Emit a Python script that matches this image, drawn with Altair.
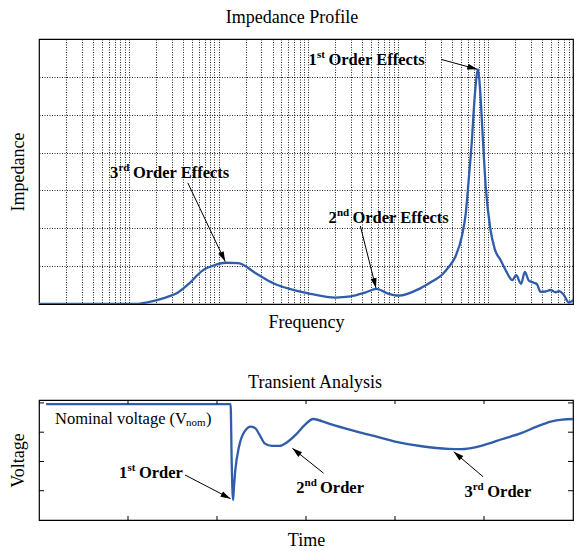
import altair as alt
import pandas as pd

BLUE = "#2f5dab"
FONT = "Liberation Serif"
ARROW = "M0,0L-0.6,2L0.6,2Z"

# ---------------- Impedance profile (top) ----------------
imp_freq = [1, 12, 16.5, 22, 28, 35, 47, 65, 91, 120,
            166, 257, 407, 661, 1047, 2000, 2950, 4270, 5750, 7590,
            10100, 17800, 24000, 31000, 36300, 43200, 51300, 56600, 61100, 66100,
            71300, 77600, 82000, 87100, 94400, 106000, 119000, 138000, 157000, 171000,
            186000, 206000, 234000, 257000, 285000, 324000, 352000, 385000, 437000, 498000,
            566000, 617000, 700000, 795000, 906000]
imp_val = [0, 0, 0.05, 0.12, 0.2, 0.3, 0.54, 0.87, 1.03, 1.09,
           1.08, 0.82, 0.55, 0.38, 0.27, 0.17, 0.2, 0.3, 0.4, 0.28,
           0.22, 0.42, 0.6, 0.78, 0.97, 1.24, 1.8, 2.4, 3.3, 4.3,
           5.5, 6.2, 5.6, 4.5, 3.1, 2.0, 1.45, 1.16, 0.9, 0.73,
           0.63, 0.76, 0.53, 0.85, 0.62, 0.56, 0.52, 0.32, 0.33, 0.37,
           0.31, 0.34, 0.24, 0.04, 0.12]

freq_domain = [1, 885000]
imp_domain = [0, 7]
imp_grid_y = [1, 2, 3, 4, 5, 6]
imp_grid_x = [k * 10 ** n for n in range(0, 6) for k in range(1, 10)
              if 1 < k * 10 ** n < 885000]

# labels: x, y (left start), number, superscript, rest
top_lab_x = [1005, 6.19, 1679]
top_lab_y = [6.44, 3.45, 2.26]
top_lab_num = ["1", "3", "2"]
top_lab_sup = ["st", "rd", "nd"]
top_lab_rest = ["Order Effects", "Order Effects", "Order Effects"]

# arrows: start / end
top_arr_x1 = [30200, 45.4, 3790]
top_arr_y1 = [6.46, 3.2, 2.06]
top_arr_x2 = [76000, 118.5, 5660]
top_arr_y2 = [6.2, 1.12, 0.42]
top_arr_ang = [105.7, 154.7, 166.0]

# ---------------- Transient analysis (bottom) ----------------
v_time = [0.08, 2.153, 2.165, 2.18, 2.19, 2.206, 2.247, 2.309, 2.383, 2.432,
          2.48, 2.535, 2.617, 2.7, 2.78, 2.88, 2.987, 3.08, 3.25, 3.5,
          3.75, 4.0, 4.3, 4.6, 4.75, 4.9, 5.04, 5.2, 5.41, 5.6,
          5.75, 5.88, 6.0]
v_val = [3.96, 3.96, 2.0, 0.68, 1.1, 1.71, 2.5, 3.02, 3.19, 3.13,
         2.9, 2.62, 2.53, 2.53, 2.64, 2.9, 3.25, 3.45, 3.3, 3.08,
         2.88, 2.68, 2.52, 2.43, 2.42, 2.48, 2.6, 2.76, 2.96, 3.2,
         3.36, 3.43, 3.45]

t_domain = [0, 6]
v_domain = [0, 4.1]
t_ticks = [1, 2, 3, 4, 5]
v_ticks = [1, 2, 3, 4]

bot_lab_x = [0.9, 2.89, 4.78]
bot_lab_y = [1.6, 1.10, 0.97]
bot_lab_num = ["1", "2", "3"]
bot_lab_sup = ["st", "nd", "rd"]
bot_lab_rest = ["Order", "Order", "Order"]

nom_x = [0.18]
nom_y = [3.44]
nom_text = ["Nominal voltage (V"]
nom_sub = ["nom"]
nom_close = [")"]

bot_arr_x1 = [1.64, 3.197, 4.989]
bot_arr_y1 = [1.54, 1.6, 1.48]
bot_arr_x2 = [2.152, 2.847, 4.66]
bot_arr_y2 = [0.73, 2.45, 2.33]
bot_arr_ang = [117.3, 308.8, 310.5]

W = 534
H_TOP = 265
H_BOT = 120

LAB_FS = 16.5
SUP_FS = 11
SUP_W = {"st": 8.0, "nd": 12.0, "rd": 11.0}
NUM_W = 8.3


def labels(xs, ys, nums, sups, rests, xf, yf):
    layers = []
    for x, y, n, s, r in zip(xs, ys, nums, sups, rests):
        d = pd.DataFrame({"x": [x], "y": [y], "n": [n], "s": [s], "r": [r]})
        b = alt.Chart(d)
        enc = dict(x=alt.X("x:Q", scale=xf), y=alt.Y("y:Q", scale=yf))
        layers.append(b.mark_text(align="left", baseline="middle", font=FONT,
                                  fontWeight="bold", fontSize=LAB_FS, color="black")
                      .encode(text="n:N", **enc))
        layers.append(b.mark_text(align="left", baseline="middle", font=FONT,
                                  fontWeight="bold", fontSize=SUP_FS, color="black",
                                  dx=NUM_W, dy=-5)
                      .encode(text="s:N", **enc))
        layers.append(b.mark_text(align="left", baseline="middle", font=FONT,
                                  fontWeight="bold", fontSize=LAB_FS, color="black",
                                  dx=NUM_W + SUP_W[s] + 3.5)
                      .encode(text="r:N", **enc))
    return layers


def arrows(x1, y1, x2, y2, ang, xf, yf):
    d = pd.DataFrame({"x1": x1, "y1": y1, "x2": x2, "y2": y2, "ang": ang})
    b = alt.Chart(d)
    rule = b.mark_rule(color="black", strokeWidth=1).encode(
        x=alt.X("x1:Q", scale=xf), y=alt.Y("y1:Q", scale=yf), x2="x2:Q", y2="y2:Q")
    head = b.mark_point(shape=ARROW, filled=True, color="black", opacity=1,
                        size=100, strokeWidth=0).encode(
        x=alt.X("x2:Q", scale=xf), y=alt.Y("y2:Q", scale=yf),
        angle=alt.Angle("ang:Q", scale=None))
    return [rule, head]


# ---- top chart
fx = alt.Scale(type="log", domain=freq_domain, nice=False)
fy = alt.Scale(domain=imp_domain, nice=False)
imp_df = pd.DataFrame({"freq": imp_freq, "imp": imp_val})
top_line = alt.Chart(imp_df).mark_line(color=BLUE, strokeWidth=2.3, clip=True,
                                       interpolate="monotone").encode(
    x=alt.X("freq:Q", scale=fx,
            axis=alt.Axis(values=imp_grid_x, grid=True, labels=False, ticks=False,
                          domain=False, title="Frequency", titlePadding=9,
                          gridColor="black", gridDash=[1, 1.5], gridOpacity=0.85)),
    y=alt.Y("imp:Q", scale=fy,
            axis=alt.Axis(values=imp_grid_y, grid=True, labels=False, ticks=False,
                          domain=False, title="Impedance", titlePadding=12,
                          gridColor="black", gridDash=[1, 1.5], gridOpacity=0.85)),
)
top = alt.layer(
    top_line,
    *arrows(top_arr_x1, top_arr_y1, top_arr_x2, top_arr_y2, top_arr_ang, fx, fy),
    *labels(top_lab_x, top_lab_y, top_lab_num, top_lab_sup, top_lab_rest, fx, fy),
).properties(width=W, height=H_TOP,
             title=alt.TitleParams("Impedance  Profile", font=FONT, fontSize=18,
                                   fontWeight="normal", offset=12, dx=-14, color="black"))

# ---- bottom chart
tx = alt.Scale(domain=t_domain, nice=False)
vy = alt.Scale(domain=v_domain, nice=False)
v_df = pd.DataFrame({"t": v_time, "v": v_val})
bot_line = alt.Chart(v_df).mark_line(color=BLUE, strokeWidth=2.3, clip=True,
                                     interpolate="monotone").encode(
    x=alt.X("t:Q", scale=tx,
            axis=alt.Axis(grid=False, labels=False, ticks=False, domain=False,
                          title="Time", titlePadding=11)),
    y=alt.Y("v:Q", scale=vy,
            axis=alt.Axis(grid=False, labels=False, ticks=False, domain=False,
                          title="Voltage", titlePadding=12)),
)
tt = pd.DataFrame({"t": t_ticks})
vt = pd.DataFrame({"v": v_ticks})
tick_b = alt.Chart(tt).mark_rule(color="black", strokeWidth=1).encode(
    x=alt.X("t:Q", scale=tx), y=alt.value(H_BOT), y2=alt.value(H_BOT - 4))
tick_t = alt.Chart(tt).mark_rule(color="black", strokeWidth=1).encode(
    x=alt.X("t:Q", scale=tx), y=alt.value(0), y2=alt.value(4))
tick_l = alt.Chart(vt).mark_rule(color="black", strokeWidth=1).encode(
    y=alt.Y("v:Q", scale=vy), x=alt.value(0), x2=alt.value(5))
tick_r = alt.Chart(vt).mark_rule(color="black", strokeWidth=1).encode(
    y=alt.Y("v:Q", scale=vy), x=alt.value(W), x2=alt.value(W - 5))

nom_df = pd.DataFrame({"x": nom_x, "y": nom_y, "a": nom_text, "b": nom_sub, "c": nom_close})
nb = alt.Chart(nom_df)
nom_layers = [
    nb.mark_text(align="left", baseline="middle", font=FONT, fontSize=16.5, color="black")
      .encode(x=alt.X("x:Q", scale=tx), y=alt.Y("y:Q", scale=vy), text="a:N"),
    nb.mark_text(align="left", baseline="middle", font=FONT, fontSize=11, color="black",
                 dx=131, dy=4)
      .encode(x=alt.X("x:Q", scale=tx), y=alt.Y("y:Q", scale=vy), text="b:N"),
    nb.mark_text(align="left", baseline="middle", font=FONT, fontSize=16.5, color="black",
                 dx=151)
      .encode(x=alt.X("x:Q", scale=tx), y=alt.Y("y:Q", scale=vy), text="c:N"),
]

bot = alt.layer(
    bot_line, tick_b, tick_t, tick_l, tick_r,
    *nom_layers,
    *arrows(bot_arr_x1, bot_arr_y1, bot_arr_x2, bot_arr_y2, bot_arr_ang, tx, vy),
    *labels(bot_lab_x, bot_lab_y, bot_lab_num, bot_lab_sup, bot_lab_rest, tx, vy),
).properties(width=W, height=H_BOT,
             title=alt.TitleParams("Transient  Analysis", font=FONT, fontSize=18,
                                   fontWeight="normal", offset=8, dx=9, color="black"))

chart = alt.vconcat(top, bot, spacing=40).properties(
    padding={"left": 8, "top": 8, "right": 0, "bottom": 0},
    background="white",
).configure_view(stroke="black", strokeWidth=1.2).configure_axis(
    titleFont=FONT, titleFontSize=18, titleFontWeight="normal", titleColor="black"
).configure_concat(spacing=40)

chart.save("out.html", embed_options={"renderer": "svg", "actions": False})
